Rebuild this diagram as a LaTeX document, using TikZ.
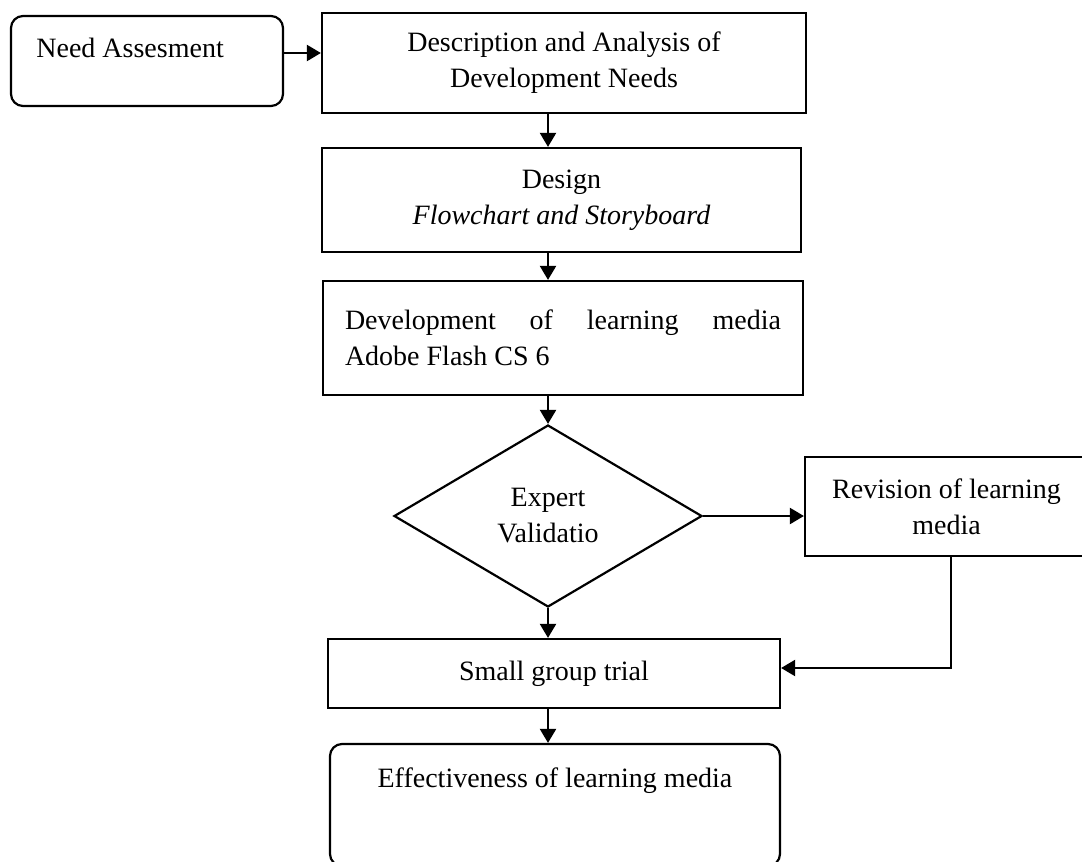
\documentclass[tikz,border=0pt]{standalone}
\usepackage{fontspec}
\setmainfont{Liberation Serif}
\usetikzlibrary{shapes.geometric,arrows.meta}

\begin{document}
\begin{tikzpicture}
  [x=0.5pt,y=-0.5pt,font=\fontsize{14}{18}\selectfont,
   box/.style={draw,line width=1.1pt,inner sep=0pt,align=center},
   rbox/.style={box,rounded corners=6pt},
   arr/.style={line width=1.1pt,-{Triangle[length=7pt,width=8pt]}}]
  \useasboundingbox (0,0) rectangle (1082,862);
  \coordinate (axis) at (548,0);
  \coordinate (top) at (0,53);
  \coordinate (back) at (951,668);

  \node[rbox,minimum width=136pt,minimum height=45pt] (need) at (147,61) {};
  \node[anchor=base west,inner sep=0pt] (needtxt) at (36,57) {Need Assesment};
  \node[box,minimum width=242pt,minimum height=50pt] (desc) at (564,63)
    {Description and Analysis of\\Development Needs};
  \node[box,minimum width=239.5pt,minimum height=52pt] (design) at (561.5,200)
    {Design\\\textit{Flowchart and Storyboard}};
  \node[box,minimum width=240pt,minimum height=57pt,text width=218pt,align=justify] (dev) at (563,338)
    {Development of learning media\linebreak Adobe Flash CS 6};
  \node[box,diamond,aspect=1.7,minimum width=154pt,minimum height=91pt] (val) at (548,516)
    {Expert\\Validatio};
  \node[box,minimum width=141.5pt,minimum height=49.5pt] (rev) at (946.5,506.5)
    {Revision of learning\\media};
  \node[box,minimum width=226pt,minimum height=34.5pt] (small) at (554,673.5) {Small group trial};
  \node[rbox,minimum width=225pt,minimum height=61pt] (effect) at (555,805) {};
  \node[anchor=base,inner sep=0pt] (effecttxt) at (555,787) {Effectiveness of learning media};

  \draw[arr] (need.east |- top) -- (desc.west |- top);
  \draw[arr] (axis |- desc.south) -- (axis |- design.north);
  \draw[arr] (axis |- design.south) -- (axis |- dev.north);
  \draw[arr] (axis |- dev.south) -- (val.north);
  \draw[arr] (val.east) -- (val.east -| rev.west);
  \draw[arr] (val.south) -- (val.south |- small.north);
  \draw[arr] (axis |- small.south) -- (axis |- effect.north);
  \draw[arr] (back |- rev.south) -- (back) -- (back -| small.east);
\end{tikzpicture}
\end{document}
